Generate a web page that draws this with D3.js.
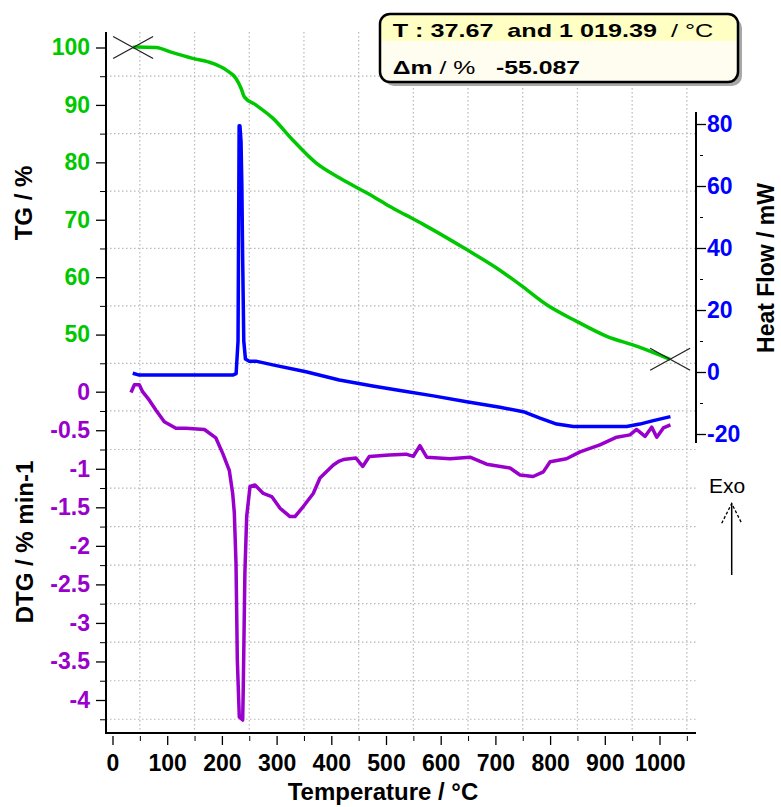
<!DOCTYPE html>
<html>
<head>
<meta charset="utf-8">
<script src="https://cdn.jsdelivr.net/npm/d3@7"></script>
<style>
  html, body { margin: 0; padding: 0; background: #fff; }
  svg { display: block; font-family: "Liberation Sans", Arial, sans-serif; }
</style>
</head>
<body>
<div id="chart"></div>
<script>
// ---------- data ----------
// TG (mass %) vs temperature
const tgTemp = [37.67, 43, 79.5, 110, 146.6, 183, 207.5, 225.8, 235, 241, 262, 293, 329.4, 372, 414.6,
                475.7, 507, 536.6, 568, 647.5, 702, 745, 793.8, 848.6, 903.5, 958, 1019.39];
const tgMass = [100.0, 100.1, 100.0, 99.1, 98.1, 97.25, 96.1, 94.6, 92.9, 91.4, 90.0, 87.7, 83.9, 79.9, 77.3,
                74.1, 72.3, 70.8, 69.2, 64.8, 61.6, 58.7, 55.2, 52.3, 49.7, 48.0, 45.7];

// Heat flow (mW)
const hfTemp = [37, 49, 120, 219.7, 226, 229.5, 231.5, 233, 235, 236.5, 238, 240, 243, 250, 262, 293,
                353.7, 414.6, 475.7, 525.6, 586.5, 647.5, 708.4, 751, 781.5, 812, 842.4, 940, 964, 988.7, 1020];
const hfValue = [-0.4, -1.0, -1.0, -1.0, -0.5, 10, 79.4, 79.4, 74.3, 60, 36, 10, 4.2, 3.5, 3.5, 2.3,
                 0.1, -2.6, -4.5, -6.0, -7.7, -9.6, -11.4, -12.8, -14.9, -16.8, -17.6, -17.6, -16.8, -15.7, -14.4];

// DTG (% / min)
const dtgTemp = [33.8, 40, 49, 55, 67.3, 79.5, 94.7, 116, 134, 168, 189, 201.5, 213.5, 219.7, 222.7, 225.8,
                 228.2, 231.8, 238, 239, 242, 245.3, 251.4, 260.5, 275.7, 291, 306, 324.5, 333.6, 348.8, 367,
                 379.3, 403.7, 414.6, 422, 445, 457.4, 469.5, 506, 536.6, 550, 562, 574.4, 617, 653.6, 684,
                 726.7, 745, 769, 787.6, 800, 830, 854.7, 891, 921.7, 946, 958, 973.5, 985.7, 995, 1007, 1020];
const dtgValue = [-0.01, 0.09, 0.09, 0, -0.11, -0.24, -0.39, -0.475, -0.475, -0.49, -0.60, -0.80, -1.02, -1.32, -1.57, -2.23,
                  -3.48, -4.22, -4.26, -3.87, -2.36, -1.62, -1.23, -1.21, -1.32, -1.36, -1.51, -1.62, -1.62, -1.49, -1.32,
                  -1.12, -0.95, -0.90, -0.88, -0.86, -0.97, -0.84, -0.82, -0.81, -0.84, -0.70, -0.85, -0.87, -0.85, -0.94,
                  -0.99, -1.08, -1.10, -1.04, -0.91, -0.87, -0.78, -0.69, -0.59, -0.56, -0.49, -0.58, -0.46, -0.59, -0.47, -0.43];

// ticks
const xTicks = [0, 100, 200, 300, 400, 500, 600, 700, 800, 900, 1000];
const xGrid = [50, 150, 250, 350, 450, 550, 650, 750, 850, 950, 1050];
const tgTicks = [50, 60, 70, 80, 90, 100];
const tgGrid = [45, 55, 65, 75, 85, 95];
const dtgTicks = [0, -0.5, -1, -1.5, -2, -2.5, -3, -3.5, -4];
const dtgGrid = [-0.25, -0.75, -1.25, -1.75, -2.25, -2.75, -3.25, -3.75, -4.25];
const hfTicks = [80, 60, 40, 20, 0, -20];
const hfMinor = [70, 50, 30, 10, -10];

const infoLine1 = 'T : 37.67  and 1 019.39';
const infoUnit1 = '  / °C';
const infoLine2a = 'Δm';
const infoLine2b = ' / % ';
const infoLine2c = '  -55.087';

// ---------- layout ----------
const W = 781, H = 807;
const frame = {left: 106, right: 696, top: 32, bottom: 733, rightTop: 112, rightBottom: 443};

const GREEN = '#00c800', BLUE = '#0000ff', PURPLE = '#9900cc';
const GRID = '#b8b8b8';

const svg = d3.select('#chart').append('svg')
    .attr('width', W)
    .attr('height', H)
    .style('background', '#fff');

// scales
const x = d3.scaleLinear().domain([0, 1000]).range([112.5, 659.5]);
const yTG = d3.scaleLinear().domain([40, 100]).range([392, 47.5]);
const yDTG = d3.scaleLinear().domain([-4, 0]).range([700, 391.7]);
const yHF = d3.scaleLinear().domain([-20, 80]).range([434, 124]);

// grid
const grid = svg.append('g')
    .attr('stroke', GRID)
    .attr('stroke-width', 1.2)
    .attr('stroke-dasharray', '1.5,2.5');

xGrid.forEach(t => {
    grid.append('line')
        .attr('x1', x(t)).attr('x2', x(t))
        .attr('y1', frame.top).attr('y2', frame.bottom);
});
tgGrid.map(yTG).concat(dtgGrid.map(yDTG)).forEach(yy => {
    grid.append('line')
        .attr('x1', frame.left).attr('x2', frame.right)
        .attr('y1', yy).attr('y2', yy);
});

// curves
const tgData = tgTemp.map((t, i) => [t, tgMass[i]]);
const hfData = hfTemp.map((t, i) => [t, hfValue[i]]);
const dtgData = dtgTemp.map((t, i) => [t, dtgValue[i]]);

svg.append('path')
    .datum(dtgData)
    .attr('fill', 'none')
    .attr('stroke', PURPLE)
    .attr('stroke-width', 3.5)
    .attr('stroke-linejoin', 'round')
    .attr('d', d3.line().x(d => x(d[0])).y(d => yDTG(d[1])));

svg.append('path')
    .datum(hfData)
    .attr('fill', 'none')
    .attr('stroke', BLUE)
    .attr('stroke-width', 3.5)
    .attr('stroke-linejoin', 'round')
    .attr('d', d3.line().x(d => x(d[0])).y(d => yHF(d[1])));

svg.append('path')
    .datum(tgData)
    .attr('fill', 'none')
    .attr('stroke', GREEN)
    .attr('stroke-width', 3.5)
    .attr('stroke-linejoin', 'round')
    .attr('d', d3.line().x(d => x(d[0])).y(d => yTG(d[1])).curve(d3.curveMonotoneX));

// crosses at the evaluation limits
[tgData[0], tgData[tgData.length - 1]].forEach(d => {
    const cx = x(d[0]), cy = yTG(d[1]);
    const g = svg.append('g')
        .attr('stroke', '#222')
        .attr('stroke-width', 1.3);
    g.append('line').attr('x1', cx - 20).attr('y1', cy - 11).attr('x2', cx + 20).attr('y2', cy + 11);
    g.append('line').attr('x1', cx - 20).attr('y1', cy + 11).attr('x2', cx + 20).attr('y2', cy - 11);
});

// axis lines
const axisLines = svg.append('g').attr('stroke', '#000').attr('stroke-width', 2);
axisLines.append('line')
    .attr('x1', frame.left).attr('x2', frame.left)
    .attr('y1', frame.top).attr('y2', frame.bottom + 1);
axisLines.append('line')
    .attr('x1', frame.left - 1).attr('x2', frame.right)
    .attr('y1', frame.bottom).attr('y2', frame.bottom);
axisLines.append('line')
    .attr('x1', frame.right).attr('x2', frame.right)
    .attr('y1', frame.rightTop).attr('y2', frame.rightBottom);

function styleAxis(g, color, size) {
    g.select('.domain').remove();
    g.selectAll('.tick line').attr('stroke', '#000').attr('stroke-width', 1.3);
    g.selectAll('.tick text')
        .attr('fill', color)
        .style('font-size', size + 'px')
        .style('font-weight', 'bold')
        .style('font-family', '"Liberation Sans", Arial, sans-serif');
}

// bottom axis
const xAxis = svg.append('g')
    .attr('transform', `translate(0,${frame.bottom})`)
    .call(d3.axisBottom(x).tickValues(xTicks).tickSize(12).tickPadding(10).tickFormat(d3.format('d')));
styleAxis(xAxis, '#000', 23);
xAxis.selectAll('.tick line').attr('y1', 3);
svg.append('g')
    .attr('transform', `translate(0,${frame.bottom})`)
    .call(d3.axisBottom(x).tickValues(xGrid.filter(t => t < 1060)).tickSize(8).tickFormat(''))
    .call(g => { g.select('.domain').remove(); g.selectAll('.tick line').attr('stroke', '#000').attr('y1', 3); });

// TG axis
const tgAxis = svg.append('g')
    .attr('transform', `translate(${frame.left},0)`)
    .call(d3.axisLeft(yTG).tickValues(tgTicks).tickSize(10).tickPadding(6));
styleAxis(tgAxis, GREEN, 23);
svg.append('g')
    .attr('transform', `translate(${frame.left},0)`)
    .call(d3.axisLeft(yTG).tickValues(tgGrid).tickSize(6).tickFormat(''))
    .call(g => { g.select('.domain').remove(); g.selectAll('.tick line').attr('stroke', '#000'); });

// DTG axis
const dtgAxis = svg.append('g')
    .attr('transform', `translate(${frame.left},0)`)
    .call(d3.axisLeft(yDTG).tickValues(dtgTicks).tickSize(10).tickPadding(6).tickFormat(d => String(d)));
styleAxis(dtgAxis, PURPLE, 23);
svg.append('g')
    .attr('transform', `translate(${frame.left},0)`)
    .call(d3.axisLeft(yDTG).tickValues(dtgGrid).tickSize(6).tickFormat(''))
    .call(g => { g.select('.domain').remove(); g.selectAll('.tick line').attr('stroke', '#000'); });

// Heat flow axis
const hfAxis = svg.append('g')
    .attr('transform', `translate(${frame.right},0)`)
    .call(d3.axisRight(yHF).tickValues(hfTicks).tickSize(10).tickPadding(1).tickFormat(d => String(d)));
styleAxis(hfAxis, BLUE, 23);
svg.append('g')
    .attr('transform', `translate(${frame.right},0)`)
    .call(d3.axisRight(yHF).tickValues(hfMinor).tickSize(7).tickFormat(''))
    .call(g => { g.select('.domain').remove(); g.selectAll('.tick line').attr('stroke', '#000').attr('x1', 4); });

// axis titles
function title(txt, tx, ty, rot, size) {
    svg.append('text')
        .attr('transform', `translate(${tx},${ty}) rotate(${rot})`)
        .attr('text-anchor', 'middle')
        .style('font-size', size + 'px')
        .style('font-weight', 'bold')
        .attr('fill', '#000')
        .text(txt);
}
title('TG / %', 32, 203, -90, 24);
title('DTG / % min-1', 33, 542, -90, 24);
title('Heat Flow / mW', 774, 268, -90, 23);
title('Temperature / °C', 383, 800, 0, 24);

// Exo arrow
svg.append('text')
    .attr('x', 727).attr('y', 493)
    .attr('text-anchor', 'middle')
    .style('font-size', '21px')
    .attr('fill', '#000')
    .text('Exo');
svg.append('line')
    .attr('x1', 731.7).attr('x2', 731.7)
    .attr('y1', 575).attr('y2', 503.5)
    .attr('stroke', '#000').attr('stroke-width', 1.5);
svg.append('path')
    .attr('d', 'M721.7,523.3 L731.7,503.5 L741.7,523.3')
    .attr('fill', 'none')
    .attr('stroke', '#000')
    .attr('stroke-width', 1.3)
    .attr('stroke-dasharray', '3,2');

// info box
const box = {x: 380, y: 14, w: 358, h: 68, r: 10};
svg.append('rect')
    .attr('x', box.x + 4).attr('y', box.y + 4)
    .attr('width', box.w).attr('height', box.h)
    .attr('rx', box.r)
    .attr('fill', '#a8a8a8');
svg.append('defs').append('clipPath').attr('id', 'boxClip')
    .append('rect')
    .attr('x', box.x).attr('y', box.y)
    .attr('width', box.w).attr('height', box.h)
    .attr('rx', box.r);
svg.append('rect')
    .attr('x', box.x).attr('y', box.y)
    .attr('width', box.w).attr('height', box.h)
    .attr('fill', '#fffcf0')
    .attr('clip-path', 'url(#boxClip)');
svg.append('rect')
    .attr('x', box.x).attr('y', box.y)
    .attr('width', box.w).attr('height', 27)
    .attr('fill', '#ffffc4')
    .attr('clip-path', 'url(#boxClip)');
svg.append('rect')
    .attr('x', box.x).attr('y', box.y)
    .attr('width', box.w).attr('height', box.h)
    .attr('rx', box.r)
    .attr('fill', 'none')
    .attr('stroke', '#000')
    .attr('stroke-width', 2.5);

const t1 = svg.append('text')
    .attr('x', 392.7).attr('y', 36.5)
    .attr('textLength', 320.6)
    .attr('lengthAdjust', 'spacingAndGlyphs')
    .style('font-size', '19px')
    .attr('fill', '#000')
    .style('white-space', 'pre');
t1.append('tspan').style('font-weight', 'bold').text(infoLine1);
t1.append('tspan').text(infoUnit1);

const t2 = svg.append('text')
    .attr('x', 392.7).attr('y', 74)
    .attr('textLength', 187.3)
    .attr('lengthAdjust', 'spacingAndGlyphs')
    .style('font-size', '19px')
    .attr('fill', '#000')
    .style('white-space', 'pre');
t2.append('tspan').style('font-weight', 'bold').text(infoLine2a);
t2.append('tspan').text(infoLine2b);
t2.append('tspan').style('font-weight', 'bold').text(infoLine2c);
</script>
</body>
</html>
